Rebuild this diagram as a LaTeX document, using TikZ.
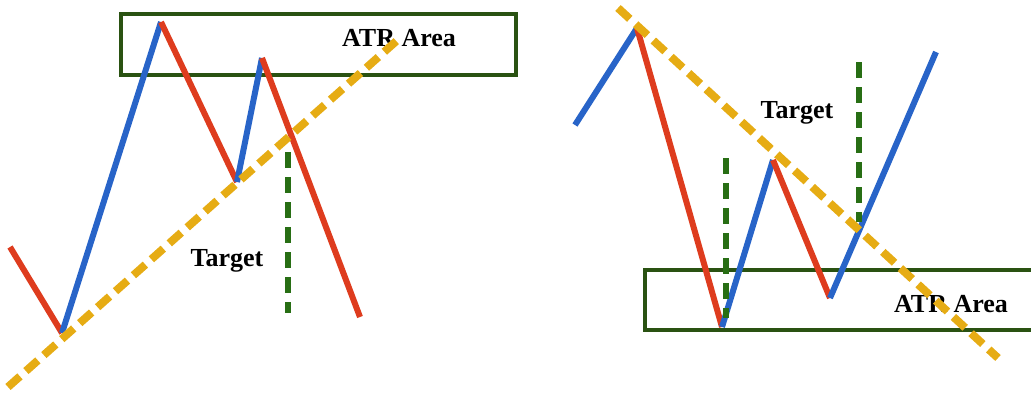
\documentclass[tikz,border=0pt]{standalone}
\usepackage{fontspec}
\setmainfont{Liberation Serif}
\definecolor{cblue}{RGB}{40,100,200}
\definecolor{cred}{RGB}{222,60,30}
\definecolor{cyel}{RGB}{230,172,20}
\definecolor{cbox}{RGB}{42,82,18}
\definecolor{cgdash}{RGB}{40,110,20}
\tikzset{
  upleg/.style={draw=cblue,line width=6pt},
  downleg/.style={draw=cred,line width=6pt},
  trendline/.style={draw=cyel,line width=8pt,dash pattern=on 16pt off 8pt},
  targetline/.style={draw=cgdash,line width=6.5pt,dash pattern=on 16pt off 9pt},
  atrbox/.style={draw=cbox,line width=4.5pt},
  lbl/.style={font=\bfseries\fontsize{26}{26}\selectfont,text=black,inner sep=0pt}
}
\begin{document}
\begin{tikzpicture}[x=1pt,y=-1pt]
\useasboundingbox (0,0) rectangle (1031,399);
\begin{scope}
\clip (0,0) rectangle (1031,399);
% boxes
\draw[atrbox] (121,14) rectangle (516,75);
\draw[atrbox] (645,270) rectangle (1045,330);
% left zigzag
\coordinate (l0) at (10,247);
\coordinate (l1) at (62,333);
\coordinate (l2) at (161,22);
\coordinate (l3) at (237,182);
\coordinate (l4) at (262,58);
\coordinate (l5) at (360,317);
\draw[downleg] (l0) -- (l1);
\draw[upleg] (l1) -- (l2);
\draw[downleg] (l2) -- (l3);
\draw[upleg] (l3) -- (l4);
\draw[downleg] (l4) -- (l5);
% right zigzag
\coordinate (r0) at (575,125);
\coordinate (r1) at (637,28);
\coordinate (r2) at (722,327);
\coordinate (r3) at (773,160);
\coordinate (r4) at (830,298);
\coordinate (r5) at (936,52);
\draw[upleg] (r0) -- (r1);
\draw[downleg] (r1) -- (r2);
\draw[upleg] (r2) -- (r3);
\draw[downleg] (r3) -- (r4);
\draw[upleg] (r4) -- (r5);
% target lines
\coordinate (lt1) at (288,152);
\coordinate (lt2) at (288,313);
\draw[targetline] (lt1) -- (lt2);
\coordinate (rt1) at (726,158);
\coordinate (rt2) at (726,318);
\draw[targetline] (rt1) -- (rt2);
\coordinate (rt3) at (859,62);
\coordinate (rt4) at (859,222);
\draw[targetline] (rt3) -- (rt4);
% labels
\node[lbl] (atrL) at (399,38) {ATR Area};
\node[lbl] (tgtL) at (227,261) {Target};
\node[lbl] (atrR) at (951,304) {ATR Area};
\node[lbl] (tgtR) at (797,113) {Target};
% trend lines
\coordinate (ly1) at (8,387);
\coordinate (ly2) at (402,36);
\draw[trendline] (ly1) -- (ly2);
\coordinate (ry1) at (618,8);
\coordinate (ry2) at (998,358);
\draw[trendline] (ry1) -- (ry2);
\end{scope}
\end{tikzpicture}
\end{document}
